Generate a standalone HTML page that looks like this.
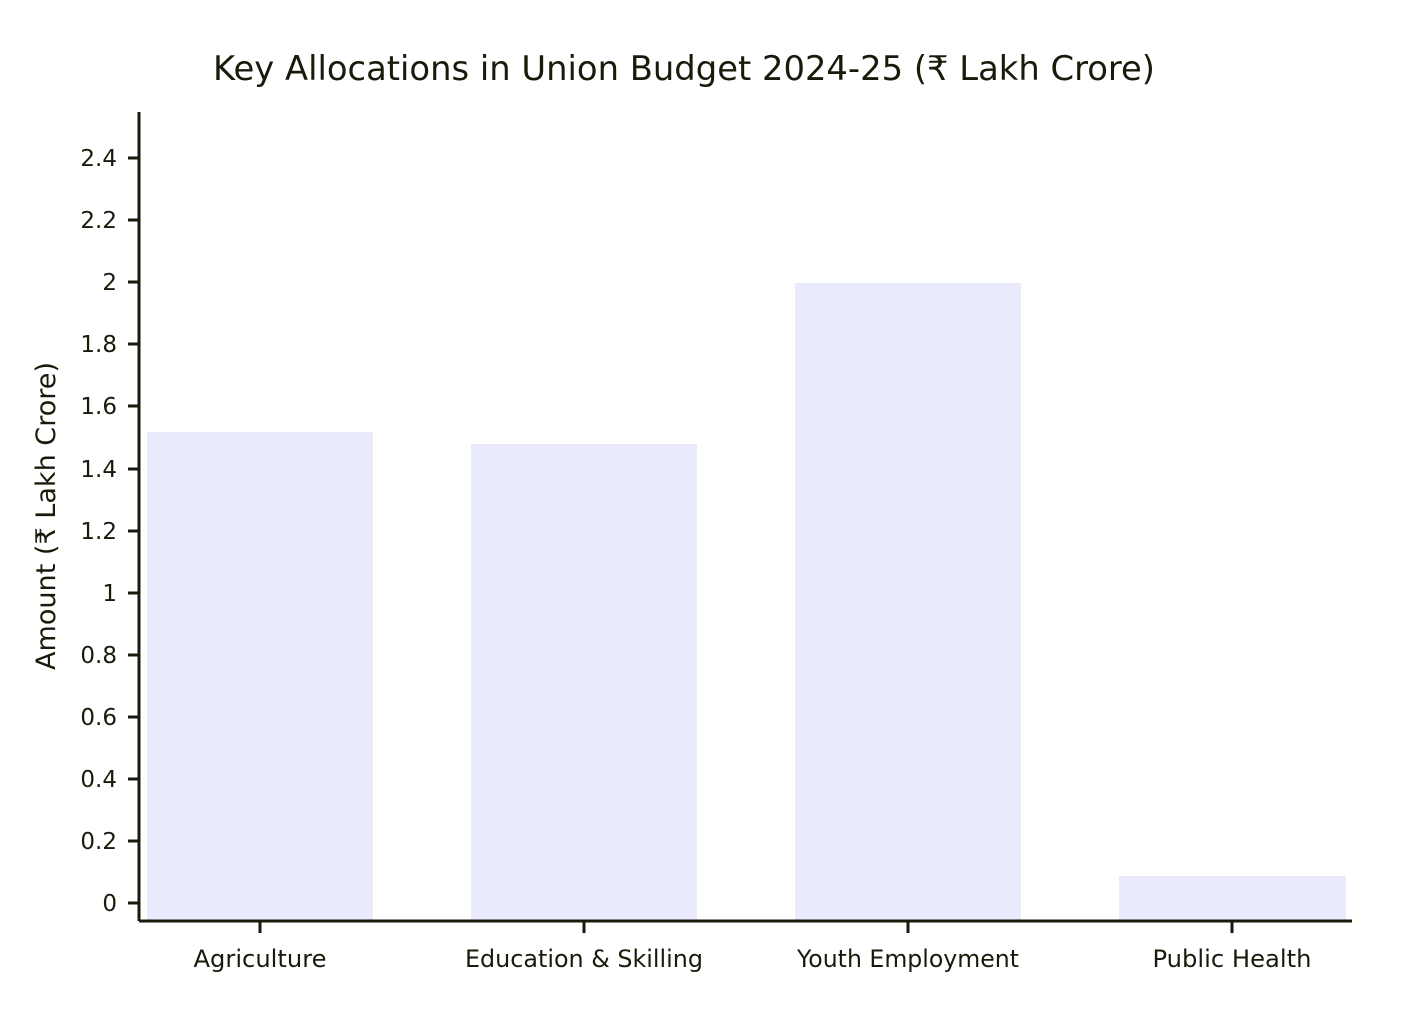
<!DOCTYPE html>
<html><head><meta charset="utf-8"><style>
html,body{margin:0;padding:0;background:#fff;}
svg text{font-family:"DejaVu Sans","Liberation Sans",sans-serif;fill:#1a1a0a;}
</style></head><body>
<svg width="1408" height="1013" viewBox="0 0 1408 1013" xmlns="http://www.w3.org/2000/svg">
<rect width="1408" height="1013" fill="#fff"/>
<text x="684" y="80" font-size="34" text-anchor="middle" textLength="942" lengthAdjust="spacingAndGlyphs">Key Allocations in Union Budget 2024-25 (₹ Lakh Crore)</text>
<g fill="#eaeafd">
<rect x="147" y="432" width="226" height="488"/>
<rect x="471" y="444" width="226" height="476"/>
<rect x="795" y="283" width="226" height="637"/>
<rect x="1119" y="876" width="227" height="44"/>
</g>
<g stroke="#1a1a0a" stroke-width="3" fill="none">
<line x1="139" y1="112" x2="139" y2="921"/>
<line x1="139" y1="921" x2="1352" y2="921"/>
<line x1="128" y1="903" x2="139" y2="903"/>
<line x1="128" y1="841" x2="139" y2="841"/>
<line x1="128" y1="779" x2="139" y2="779"/>
<line x1="128" y1="717" x2="139" y2="717"/>
<line x1="128" y1="655" x2="139" y2="655"/>
<line x1="128" y1="593" x2="139" y2="593"/>
<line x1="128" y1="531" x2="139" y2="531"/>
<line x1="128" y1="469" x2="139" y2="469"/>
<line x1="128" y1="406" x2="139" y2="406"/>
<line x1="128" y1="344" x2="139" y2="344"/>
<line x1="128" y1="282" x2="139" y2="282"/>
<line x1="128" y1="220" x2="139" y2="220"/>
<line x1="128" y1="158" x2="139" y2="158"/>
<line x1="260" y1="921" x2="260" y2="933"/>
<line x1="584" y1="921" x2="584" y2="933"/>
<line x1="908" y1="921" x2="908" y2="933"/>
<line x1="1232" y1="921" x2="1232" y2="933"/>
</g>
<g font-size="23" text-anchor="end">
<text x="117" y="911">0</text>
<text x="117" y="849">0.2</text>
<text x="117" y="787">0.4</text>
<text x="117" y="725">0.6</text>
<text x="117" y="663">0.8</text>
<text x="117" y="601">1</text>
<text x="117" y="539">1.2</text>
<text x="117" y="477">1.4</text>
<text x="117" y="414">1.6</text>
<text x="117" y="352">1.8</text>
<text x="117" y="290">2</text>
<text x="117" y="228">2.2</text>
<text x="117" y="166">2.4</text>
</g>
<g font-size="24" text-anchor="middle">
<text x="260" y="967" textLength="133" lengthAdjust="spacingAndGlyphs">Agriculture</text>
<text x="584" y="967" textLength="238" lengthAdjust="spacingAndGlyphs">Education &amp; Skilling</text>
<text x="908" y="967" textLength="222" lengthAdjust="spacingAndGlyphs">Youth Employment</text>
<text x="1232" y="967" textLength="159" lengthAdjust="spacingAndGlyphs">Public Health</text>
</g>
<text transform="translate(55,516) rotate(-90)" font-size="27" text-anchor="middle" textLength="308" lengthAdjust="spacingAndGlyphs">Amount (₹ Lakh Crore)</text>
</svg>
</body></html>
